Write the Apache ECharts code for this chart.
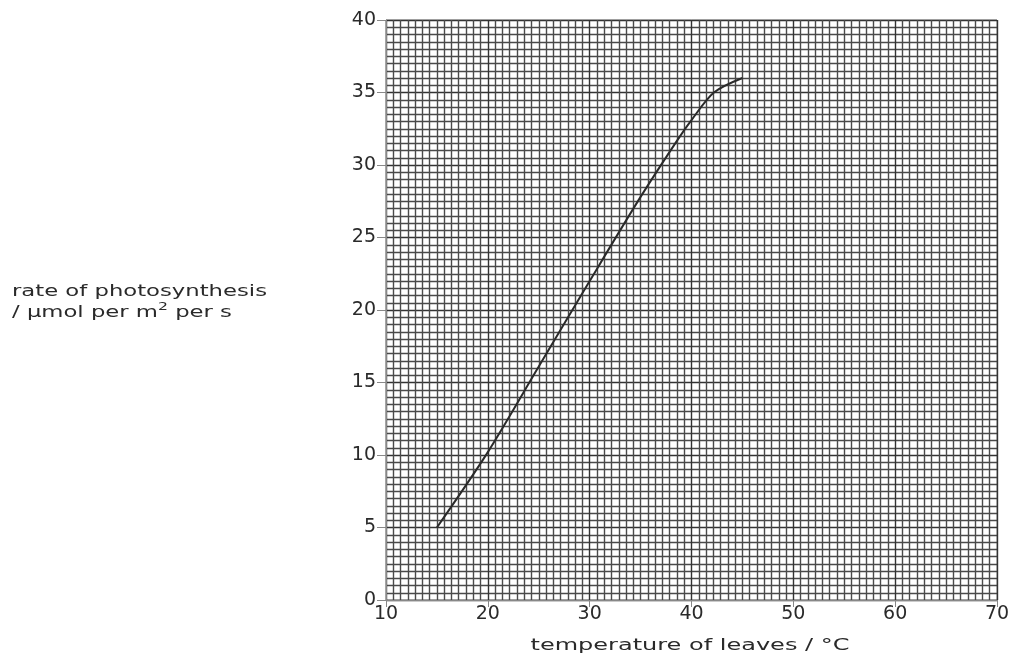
<!DOCTYPE html>
<html>
<head>
<meta charset="utf-8">
<script src="https://cdn.jsdelivr.net/npm/echarts@6/dist/echarts.min.js"></script>
<style>
html,body{margin:0;padding:0;background:#fff;}
#chart{width:1016px;height:658px;}
</style>
</head>
<body>
<div id="chart"></div>
<script>
const temperatures = [15, 20, 25, 30, 35, 38.6, 40, 42.2, 45];
const rates = [5, 10.2, 16.1, 22, 27.8, 31.7, 33.1, 35, 36];
const xTicks = [10, 20, 30, 40, 50, 60, 70];
const yTicks = [0, 5, 10, 15, 20, 25, 30, 35, 40];
const xTitle = 'temperature of leaves / °C';
const yTitleLine1 = 'rate of photosynthesis';
const yTitleLine2 = '/ μmol per m{sup|2} per s';

const font = 'DejaVu Sans, sans-serif';
const tickFont = 'DejaVu Sans, sans-serif';
const chart = echarts.init(document.getElementById('chart'));
const gridColor = '#4a4a4a';
const lineW = 1.4;
chart.setOption({
  animation: false,
  backgroundColor: '#fff',
  grid: {left: 386, right: 19, top: 20, bottom: 58, show: true, borderColor: '#888', borderWidth: 1},
  xAxis: {
    type: 'value', min: xTicks[0], max: xTicks[xTicks.length - 1], interval: 10,
    axisLine: {show: true, lineStyle: {color: '#888', width: 1}},
    axisTick: {show: true, length: 7, lineStyle: {color: '#888'}},
    axisLabel: {fontFamily: tickFont, fontSize: 19, color: '#2a2a2a', margin: 5},
    splitLine: {show: true, lineStyle: {color: '#333', width: lineW}},
    minorTick: {show: false, splitNumber: 14},
    minorSplitLine: {show: true, lineStyle: {color: gridColor, width: lineW}}
  },
  yAxis: {
    type: 'value', min: yTicks[0], max: yTicks[yTicks.length - 1], interval: 5,
    axisLine: {show: true, lineStyle: {color: '#888', width: 1}},
    axisTick: {show: true, length: 9, lineStyle: {color: '#888'}},
    axisLabel: {fontFamily: tickFont, fontSize: 19, color: '#2a2a2a', margin: 10},
    splitLine: {show: true, lineStyle: {color: '#333', width: lineW}},
    minorTick: {show: false, splitNumber: 10},
    minorSplitLine: {show: true, lineStyle: {color: gridColor, width: lineW}}
  },
  graphic: [{
    type: 'text', x: 12, y: 281, scaleX: 1.42, originX: 0, originY: 0,
    style: {
      text: yTitleLine1 + '\n' + yTitleLine2,
      fontFamily: font, fontSize: 16, fill: '#2a2a2a', lineHeight: 21,
      rich: {sup: {fontFamily: font, fontSize: 11, fill: '#2a2a2a', verticalAlign: 'top', padding: [0, 0, 8, 0]}}
    }
  }, {
    type: 'text', x: 690, y: 646, scaleX: 1.5, originX: 0, originY: 0,
    style: {
      text: xTitle, align: 'center', verticalAlign: 'middle',
      fontFamily: font, fontSize: 16, fill: '#2a2a2a'
    }
  }],
  series: [{
    type: 'line',
    data: temperatures.map((t, i) => [t, rates[i]]),
    smooth: 0.3,
    showSymbol: false,
    lineStyle: {color: '#2a2a2a', width: 2}
  }]
});
</script>
</body>
</html>
